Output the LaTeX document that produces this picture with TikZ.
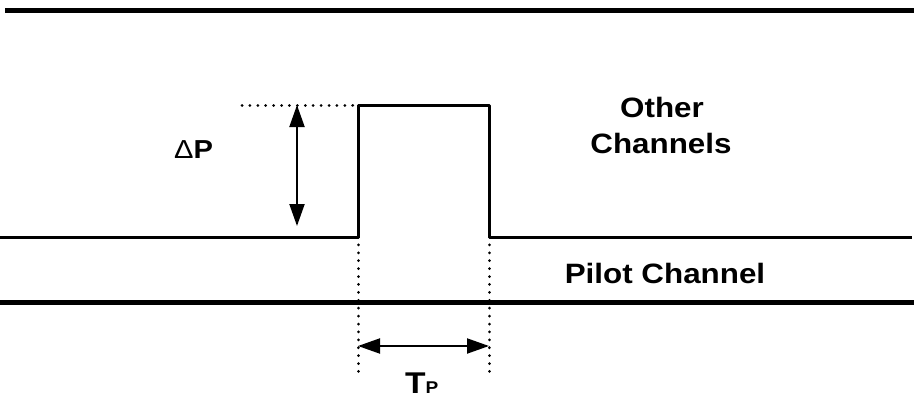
\documentclass[tikz,border=0pt]{standalone}
\usepackage{fontspec}
\setmainfont[FakeStretch=1.12]{Liberation Sans}
\usetikzlibrary{arrows.meta}
\begin{document}
\begin{tikzpicture}[x=1pt,y=-1pt,
  thickline/.style={line width=5pt},
  sigline/.style={line width=3pt},
  dotline/.style={line width=3pt,dash pattern=on 0.01pt off 7.9pt,line cap=round},
  dimarrow/.style={line width=2pt,{Triangle[length=22pt,width=15pt]}-{Triangle[length=22pt,width=15pt]}},
  lbl/.style={font=\bfseries\fontsize{28}{36}\selectfont,inner sep=0pt,align=center}]
\useasboundingbox (0,0) rectangle (914,399);
% coordinates
\coordinate (topL) at (5,10.5);
\coordinate (topR) at (914,10.5);
\coordinate (baseL) at (0,237);
\coordinate (baseR) at (912,237);
\coordinate (p1) at (358,237);
\coordinate (p2) at (358,105);
\coordinate (p3) at (489,105);
\coordinate (p4) at (489,237);
\coordinate (botL) at (0,302.5);
\coordinate (botR) at (914,302.5);
\coordinate (dotS) at (242,105);
\coordinate (dpTop) at (297,105);
\coordinate (dpBot) at (297,226);
\coordinate (v1b) at (358,377);
\coordinate (v2b) at (489,377);
\coordinate (tp1) at (358,346);
\coordinate (tp2) at (489,346);
% lines
\draw[thickline] (topL) -- (topR);
\draw[thickline] (botL) -- (botR);
\draw[sigline,line join=round] (baseL) -- (p1) -- (p2) -- (p3) -- (p4) -- (baseR);
% dotted
\draw[dotline] (dotS) -- (p2);
\draw[dotline] (p1) -- (v1b);
\draw[dotline] (p4) -- (v2b);
% arrows
\draw[dimarrow] (dpTop) -- (dpBot);
\draw[dimarrow] (tp1) -- (tp2);
% labels
\node[lbl,anchor=base west,font=\fontsize{26}{29}\selectfont] (dp) at (174,158) {Δ\textbf{P}};
\node[lbl,anchor=base west,font=\bfseries\fontsize{30}{34}\selectfont] (tp) at (405,393) {T{\fontsize{17}{19}\selectfont P}};
\node[lbl,anchor=base] (other) at (662,117) {Other};
\node[lbl,anchor=base] (chan) at (661,153) {Channels};
\node[lbl,anchor=base] (pilot) at (665,283) {Pilot Channel};
\end{tikzpicture}
\end{document}
